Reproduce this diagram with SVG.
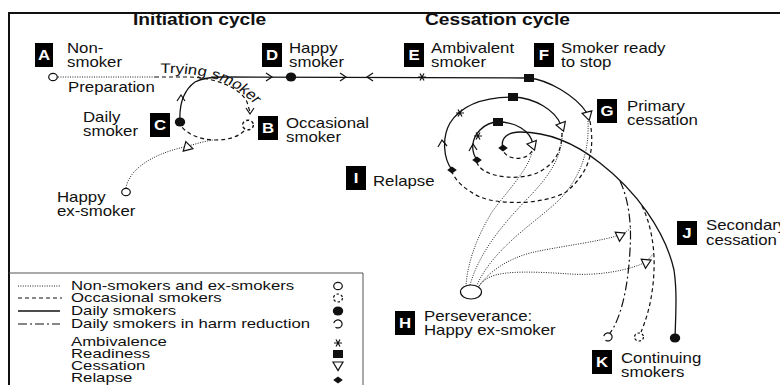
<svg xmlns="http://www.w3.org/2000/svg" width="780" height="385" viewBox="0 0 780 385">
<style>
  .t{font-family:"Liberation Sans",Arial,Helvetica,sans-serif;font-size:14px;fill:#111}
  .lg{font-family:"Liberation Sans",Arial,Helvetica,sans-serif;font-size:12.5px;fill:#111}
  .ttl{font-family:"Liberation Sans",Arial,Helvetica,sans-serif;font-size:16px;font-weight:bold;fill:#111}
  .lb{fill:#000}
  .lt{font-family:"Liberation Sans",Arial,Helvetica,sans-serif;font-size:14px;font-weight:bold;fill:#fff;text-anchor:middle}
  .solid{fill:none;stroke:#111;stroke-width:1.3}
  .dot{fill:none;stroke:#222;stroke-width:1;stroke-dasharray:1 1.4}
  .dash{fill:none;stroke:#111;stroke-width:1.2;stroke-dasharray:4 3}
  .dd{fill:none;stroke:#111;stroke-width:1.2;stroke-dasharray:9 3 2 3}
  .chev{fill:none;stroke:#111;stroke-width:1.2}
  .open{fill:#fff;stroke:#111;stroke-width:1.2}
  .fill{fill:#111}
  .ast{fill:none;stroke:#111;stroke-width:1.2}
</style>
<defs>
  <path id="ast" class="ast" d="M-4,0H4M-2,-3.5L2,3.5M-2,3.5L2,-3.5"/>
  <rect id="sq" class="fill" x="-5" y="-4" width="10" height="8"/>
  <path id="dia" class="fill" d="M0,-3.5L4.8,0L0,3.5L-4.8,0Z"/>
  <ellipse id="dotf" class="fill" rx="5.2" ry="4.5"/>
  <ellipse id="oc" class="open" rx="4.3" ry="3.7"/>
  <ellipse id="occ" rx="4.5" ry="4" fill="none" stroke="#111" stroke-width="1.2" stroke-dasharray="2.5 2"/>
  <path id="harm" d="M-2.5,3.2A4.2,4 0 1 0 -4.2,-0.8" fill="none" stroke="#111" stroke-width="1.2"/>
  <path id="tri" class="open" d="M-5,-4L5,-4L0,4.5Z"/>
  <!-- baseline of the curved "Trying smoker" label, in the text's own (x/1.2) space -->
  <path id="tryPath" d="M133.3,73Q162.5,73 179.2,79Q200,88 213.3,106" fill="none"/>
</defs>

<rect width="780" height="385" fill="#fff"/>

<!-- frame -->
<path d="M9,385V13H780" fill="none" stroke="#111" stroke-width="2"/>

<!-- headings -->
<text class="ttl" transform="translate(133,25) scale(1.2,1)">Initiation cycle</text>
<text class="ttl" transform="translate(425,25) scale(1.2,1)">Cessation cycle</text>

<g id="connectors">
  <!-- initiation cycle -->
  <path class="dot" d="M58,77H155"/>
  <path class="dash" d="M155,77H190C215,78 240,87 247,102L250,112"/>
  <path class="dash" d="M244,131C238,137 228,140 215,140C200,140 187,134 181,126"/>
  <path class="solid" d="M180,122C179,104 184,90 195,82C203,78 212,77 222,77L529,78"/>
  <path class="dot" d="M126,188C129,170 150,155 184,147C196,144 205,141 213,140"/>
  <text class="t" transform="scale(1.2,1)"><textPath href="#tryPath">Trying smoker</textPath></text>

  <!-- cessation spiral: daily smoking -->
  <path class="solid" d="M529,78C548,80 575,95 587,113"/>
  <path class="solid" d="M452,170C443,158 442,137 450,123C460,107 480,97 513,97C535,98 555,110 561,125"/>
  <path class="solid" d="M477,160C470,150 472,138 480,130C486,124 492,122 498,122C515,122 530,130 533,144"/>
  <path class="solid" d="M503,148C500,138 508,132 520,132C550,132 575,143 600,163C635,190 665,230 674,270C677,290 676,310 675,338"/>
  <path class="dd" d="M620,181C628,198 632,222 630,250C628,290 620,320 610,333"/>
  <path class="dash" d="M642,206C650,222 655,245 654,270C653,300 646,320 641,332"/>

  <!-- relapse loops -->
  <path class="dash" d="M590,121C595,150 590,172 566,192C543,205 500,205 480,197C465,190 455,180 452,172"/>
  <path class="dash" d="M562,133C562,150 555,165 537,173C520,180 495,178 483,170C479,167 477,164 477,162"/>
  <path class="dash" d="M532,151C528,158 518,160 510,157C505,155 503,151 503,150"/>

  <!-- cessation paths towards perseverance -->
  <path class="dot" d="M588,121C589,145 585,170 562,197C540,220 495,245 477,285"/>
  <path class="dot" d="M562,133C563,155 550,175 530,196C505,222 480,250 470,285"/>
  <path class="dot" d="M532,152C528,170 508,190 492,212C478,235 468,260 466,285"/>
  <path class="dot" d="M631,228L623,234C600,242 560,246 530,253C505,260 488,273 479,286"/>
  <path class="dot" d="M654,253L646,262C630,270 600,276 570,274C540,272 505,270 490,277C484,280 480,284 478,288"/>

  <!-- direction chevrons -->
  <path class="chev" d="M266,73L272,77L266,81"/>
  <path class="chev" d="M340,73L346,77L340,81"/>
  <path class="chev" d="M373,73L367,77L373,81"/>
  <path class="chev" d="M177,101L181,95L185,101"/>
  <path class="chev" d="M246,108L250,114L254,108"/>
  <path class="chev" d="M438,147L442,140L447,146"/>
  <path class="chev" d="M469,151L473,144L477,150"/>

  <!-- stage markers -->
  <use href="#ast" x="422" y="77"/>
  <use href="#ast" x="460" y="113"/>
  <use href="#ast" x="478" y="136"/>
  <use href="#sq" x="529" y="78"/>
  <use href="#sq" x="513" y="97"/>
  <use href="#sq" x="498" y="122"/>
  <use href="#dia" x="452" y="170"/>
  <use href="#dia" x="477" y="160"/>
  <use href="#dia" x="503" y="148"/>
  <use href="#tri" transform="translate(588,116) rotate(-15)"/>
  <use href="#tri" transform="translate(562,127) rotate(-20)"/>
  <use href="#tri" transform="translate(533,146) rotate(-20)"/>
  <use href="#tri" transform="translate(187,146) rotate(165)"/>
  <use href="#tri" transform="translate(621,235) rotate(-115)"/>
  <use href="#tri" transform="translate(647,262) rotate(-115)"/>
</g>

<g id="node-a">
  <rect class="lb" x="35" y="43" width="18" height="24"/>
  <text class="lt" transform="translate(44,60) scale(1.2,1)">A</text>
  <text class="t" transform="translate(67,53) scale(1.2,1)"><tspan x="0" y="0">Non-</tspan><tspan x="0" y="14">smoker</tspan></text>
  <use href="#oc" x="53" y="77"/>
  <text class="t" transform="translate(68,92) scale(1.2,1)">Preparation</text>
</g>

<g id="node-b">
  <rect class="lb" x="258" y="116" width="20" height="24"/>
  <text class="lt" transform="translate(268,133) scale(1.2,1)">B</text>
  <text class="t" transform="translate(286,128) scale(1.2,1)"><tspan x="0" y="0">Occasional</tspan><tspan x="0" y="14">smoker</tspan></text>
  <use href="#occ" transform="translate(248,125) scale(1.2)"/>
</g>

<g id="node-c">
  <rect class="lb" x="150" y="113" width="20" height="24"/>
  <text class="lt" transform="translate(160,130) scale(1.2,1)">C</text>
  <text class="t" transform="translate(83,122) scale(1.2,1)"><tspan x="0" y="0">Daily</tspan><tspan x="0" y="14">smoker</tspan></text>
  <use href="#dotf" x="180" y="122"/>
</g>

<g id="node-d">
  <rect class="lb" x="262" y="43" width="20" height="24"/>
  <text class="lt" transform="translate(272,60) scale(1.2,1)">D</text>
  <text class="t" transform="translate(289,53) scale(1.2,1)"><tspan x="0" y="0">Happy</tspan><tspan x="0" y="14">smoker</tspan></text>
  <use href="#dotf" x="291" y="77"/>
</g>

<g id="node-e">
  <rect class="lb" x="404" y="43" width="20" height="24"/>
  <text class="lt" transform="translate(414,60) scale(1.2,1)">E</text>
  <text class="t" transform="translate(431,53) scale(1.2,1)"><tspan x="0" y="0">Ambivalent</tspan><tspan x="0" y="14">smoker</tspan></text>
</g>

<g id="node-f">
  <rect class="lb" x="534" y="43" width="20" height="24"/>
  <text class="lt" transform="translate(544,60) scale(1.2,1)">F</text>
  <text class="t" transform="translate(561,53) scale(1.2,1)"><tspan x="0" y="0">Smoker ready</tspan><tspan x="0" y="14">to stop</tspan></text>
</g>

<g id="node-g">
  <rect class="lb" x="597" y="99" width="20" height="24"/>
  <text class="lt" transform="translate(607,116) scale(1.2,1)">G</text>
  <text class="t" transform="translate(627,111) scale(1.2,1)"><tspan x="0" y="0">Primary</tspan><tspan x="0" y="14">cessation</tspan></text>
</g>

<g id="node-happy-ex-smoker">
  <use href="#oc" x="126" y="192"/>
  <text class="t" transform="translate(57,202) scale(1.2,1)"><tspan x="0" y="0">Happy</tspan><tspan x="0" y="14">ex-smoker</tspan></text>
</g>

<g id="node-i">
  <rect class="lb" x="346" y="166" width="20" height="24"/>
  <text class="lt" transform="translate(356,183) scale(1.2,1)">I</text>
  <text class="t" transform="translate(373,186) scale(1.2,1)">Relapse</text>
</g>

<g id="node-h">
  <ellipse cx="471" cy="292" rx="10.5" ry="7" class="open"/>
  <rect class="lb" x="395" y="311" width="20" height="24"/>
  <text class="lt" transform="translate(405,328) scale(1.2,1)">H</text>
  <text class="t" transform="translate(424,321) scale(1.2,1)"><tspan x="0" y="0">Perseverance:</tspan><tspan x="0" y="14">Happy ex-smoker</tspan></text>
</g>

<g id="node-j">
  <rect class="lb" x="677" y="221" width="20" height="24"/>
  <text class="lt" transform="translate(687,238) scale(1.2,1)">J</text>
  <text class="t" transform="translate(706,230) scale(1.2,1)"><tspan x="0" y="0">Secondary</tspan><tspan x="0" y="15">cessation</tspan></text>
</g>

<g id="node-k">
  <use href="#harm" x="608" y="337"/>
  <use href="#occ" x="639" y="337"/>
  <use href="#dotf" x="675" y="338"/>
  <rect class="lb" x="592" y="350" width="20" height="24"/>
  <text class="lt" transform="translate(602,367) scale(1.2,1)">K</text>
  <text class="t" transform="translate(621,363) scale(1.2,1)"><tspan x="0" y="0">Continuing</tspan><tspan x="0" y="14">smokers</tspan></text>
</g>

<g id="legend">
  <path d="M9,273H363V385" fill="none" stroke="#555" stroke-width="1"/>
  <path class="dot" d="M18,286H60"/>
  <path class="dash" d="M18,298H62"/>
  <path class="solid" d="M18,311H60"/>
  <path class="dd" d="M18,324H60"/>
  <text class="lg" transform="translate(71,290) scale(1.34,1)">Non-smokers and ex-smokers</text>
  <text class="lg" transform="translate(71,302) scale(1.34,1)">Occasional smokers</text>
  <text class="lg" transform="translate(71,315) scale(1.34,1)">Daily smokers</text>
  <text class="lg" transform="translate(71,328) scale(1.34,1)">Daily smokers in harm reduction</text>
  <text class="lg" transform="translate(71,346) scale(1.34,1)">Ambivalence</text>
  <text class="lg" transform="translate(71,358) scale(1.34,1)">Readiness</text>
  <text class="lg" transform="translate(71,370) scale(1.34,1)">Cessation</text>
  <text class="lg" transform="translate(71,382) scale(1.34,1)">Relapse</text>
  <use href="#oc" x="338" y="286"/>
  <use href="#occ" x="338" y="298"/>
  <use href="#dotf" x="338" y="311"/>
  <use href="#harm" x="338" y="324"/>
  <use href="#ast" x="338" y="343"/>
  <use href="#sq" x="338" y="354"/>
  <use href="#tri" x="338" y="366"/>
  <use href="#dia" x="338" y="380"/>
</g>
</svg>
